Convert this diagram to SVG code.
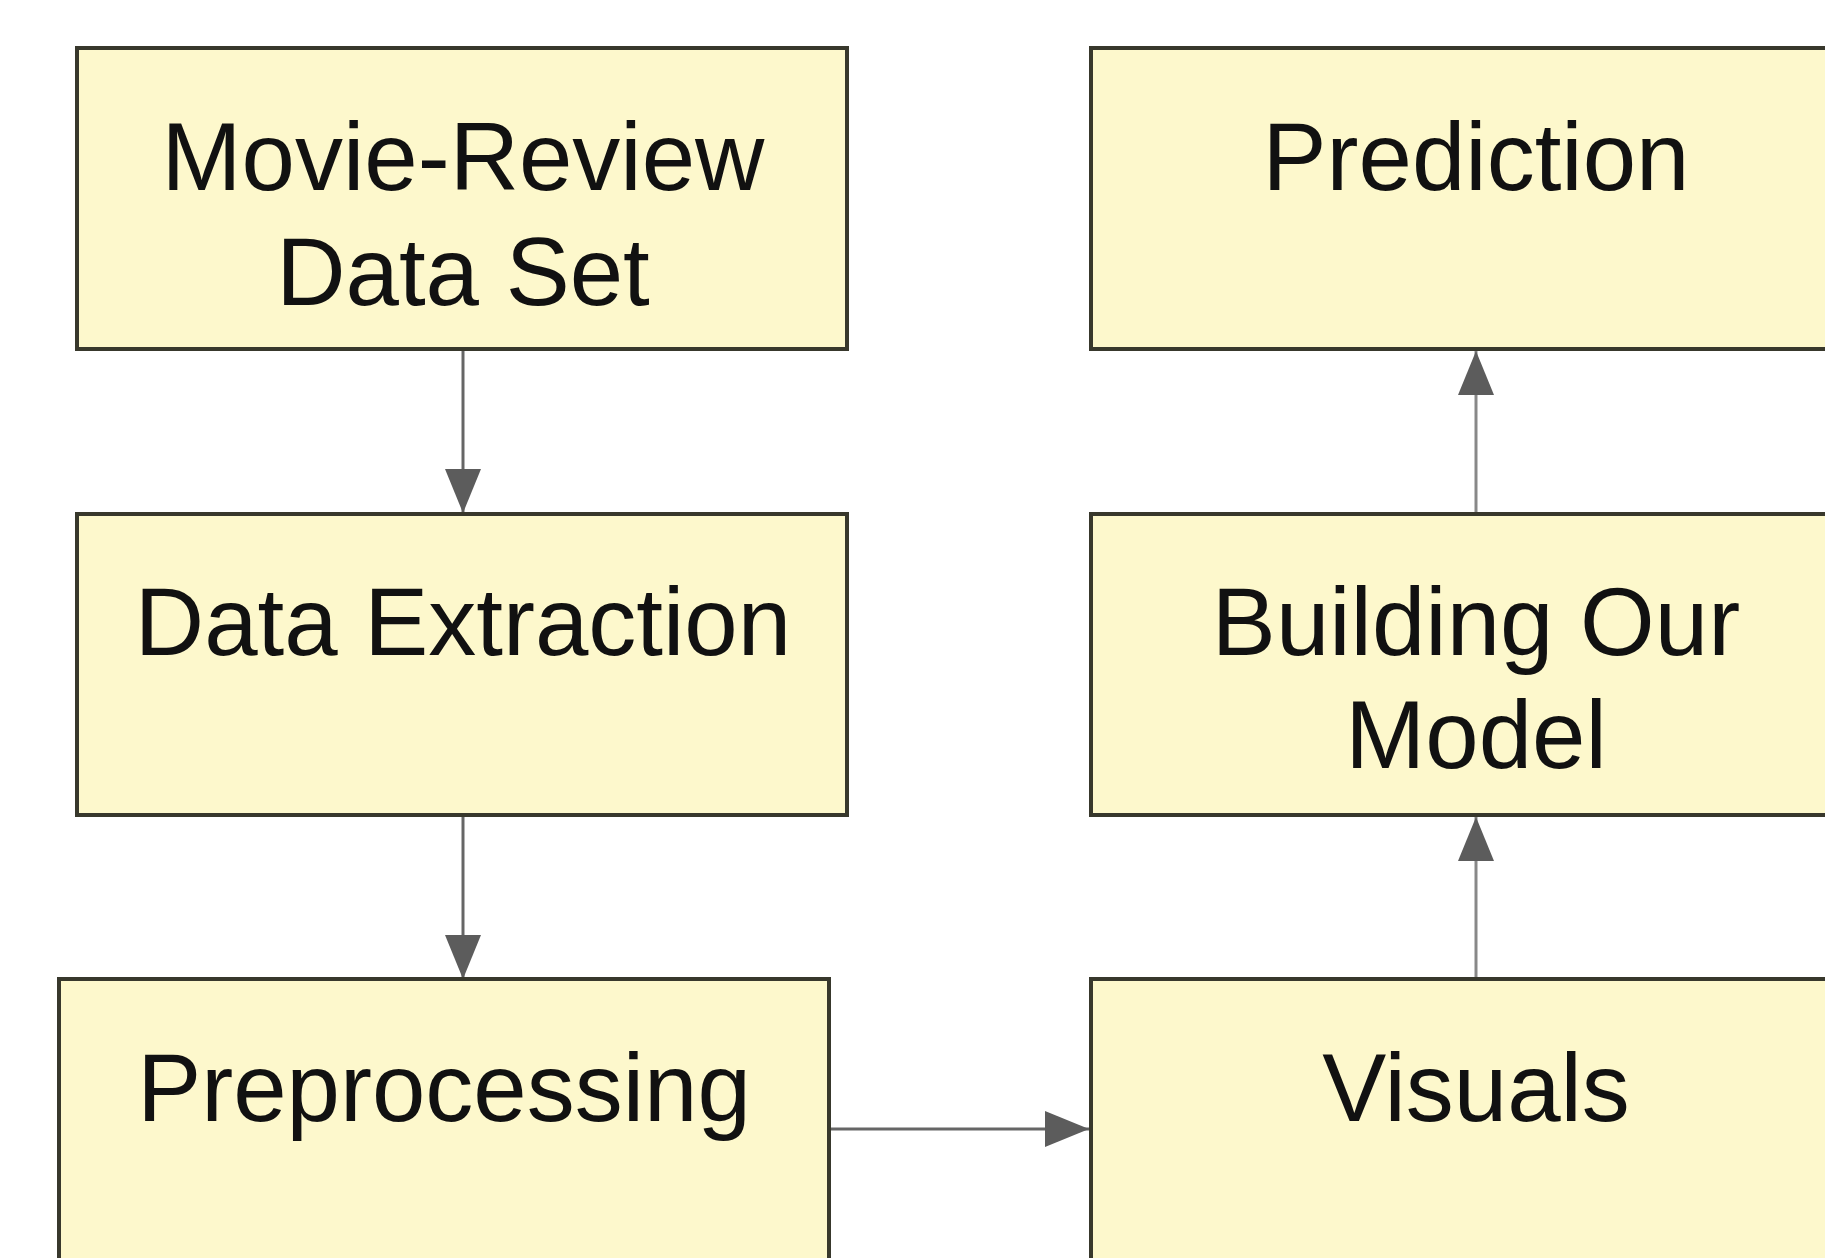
<svg xmlns="http://www.w3.org/2000/svg" width="1825" height="1258" viewBox="0 0 1825 1258">
<defs>
<style>
.box{fill:#fdf8cc;stroke:#38382c;stroke-width:4}
.lbl{font-family:"Liberation Sans",Arial,sans-serif;font-size:96px;fill:#111;text-anchor:middle}
.edge{stroke:#666;stroke-width:3;fill:none}
</style>
<marker id="ah" markerUnits="userSpaceOnUse" markerWidth="46" markerHeight="36" refX="44" refY="18" orient="auto">
<path d="M0,0 L44,18 L0,36 Z" fill="#5c5c5c"/>
</marker>
</defs>
<rect width="1825" height="1258" fill="#ffffff"/>
<g id="connectors">
<line class="edge" x1="463" y1="349" x2="463" y2="513" marker-end="url(#ah)"/>
<line class="edge" x1="463" y1="815" x2="463" y2="979" marker-end="url(#ah)"/>
<line class="edge" x1="829" y1="1129" x2="1089" y2="1129" marker-end="url(#ah)"/>
<line class="edge" x1="1476" y1="979" x2="1476" y2="817" marker-end="url(#ah)" style="stroke:#888"/>
<line class="edge" x1="1476" y1="513" x2="1476" y2="351" marker-end="url(#ah)" style="stroke:#888"/>
</g>
<g id="node-movie-review">
<rect class="box" x="77" y="48" width="770" height="301"/>
<text class="lbl" x="463" y="190">Movie-Review</text>
<text class="lbl" x="463" y="305">Data Set</text>
</g>
<g id="node-data-extraction">
<rect class="box" x="77" y="514" width="770" height="301"/>
<text class="lbl" x="463" y="655">Data Extraction</text>
</g>
<g id="node-preprocessing">
<rect class="box" x="59" y="979" width="770" height="301"/>
<text class="lbl" x="444" y="1121">Preprocessing</text>
</g>
<g id="node-prediction">
<rect class="box" x="1091" y="48" width="770" height="301"/>
<text class="lbl" x="1476" y="190">Prediction</text>
</g>
<g id="node-building-model">
<rect class="box" x="1091" y="514" width="770" height="301"/>
<text class="lbl" x="1476" y="655">Building Our</text>
<text class="lbl" x="1476" y="768">Model</text>
</g>
<g id="node-visuals">
<rect class="box" x="1091" y="979" width="770" height="301"/>
<text class="lbl" x="1476" y="1121">Visuals</text>
</g>
</svg>
